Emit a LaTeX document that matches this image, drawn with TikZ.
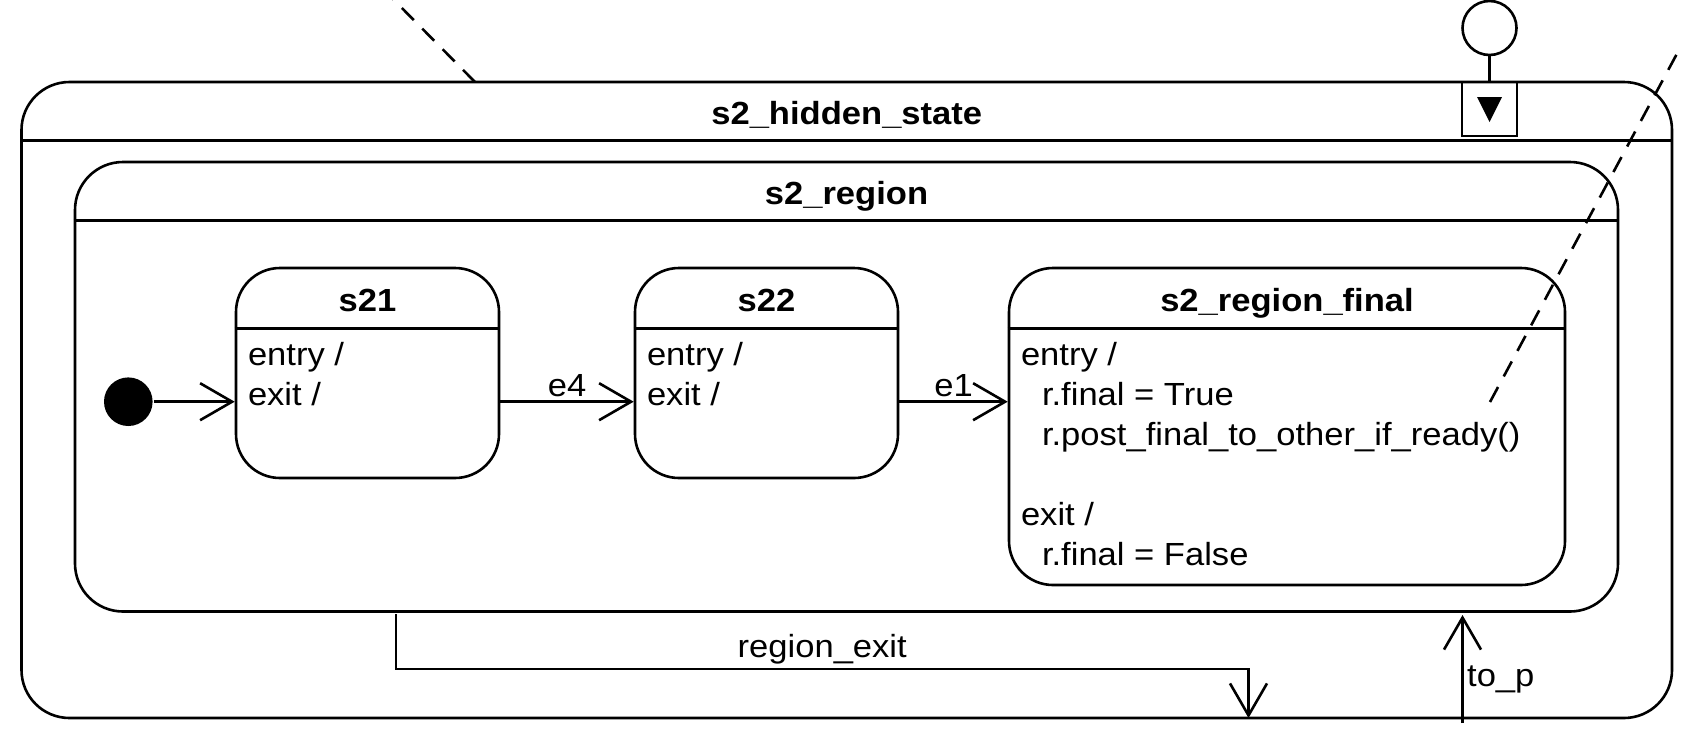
\documentclass[tikz,border=0pt]{standalone}
\usepackage{fontspec}
\setmainfont{Liberation Sans}[FakeStretch=1.08]
\usetikzlibrary{arrows.meta}

\newcommand{\statefont}{\fontsize{32}{40}\selectfont}

\begin{document}
\begin{tikzpicture}[
            x=1pt, y=-1pt,
            line width=2.6pt,
            font=\statefont,
            statebox/.style={draw, rounded corners=#1, inner sep=0pt},
            statebox/.default=44pt,
            title/.style={anchor=base, font=\statefont\bfseries},
            body/.style={anchor=base west, align=left, inner sep=0pt},
            trans/.style={-{Straight Barb[length=32pt,width=37pt]}},
            notelink/.style={dash pattern=on 17pt off 12pt}
        ]
            \useasboundingbox (0,0) rectangle (1683,729);

            \node[statebox=48pt, minimum width=1650.5pt, minimum height=636pt] (hidden) at (846.75,400) {};
            \draw ([yshift=-60pt]hidden.north west) -- ([yshift=-60pt]hidden.north east);
            \node[title] (hiddentitle) at ([yshift=-44pt]hidden.north) {s2\_hidden\_state};

            \node[statebox=48pt, minimum width=1543pt, minimum height=449.5pt] (region) at (846.5,386.75) {};
            \draw ([yshift=-60pt]region.north west) -- ([yshift=-60pt]region.north east);
            \node[title] (regiontitle) at ([yshift=-44pt]region.north) {s2\_region};

            \node[statebox, minimum width=263pt, minimum height=210pt] (s21) at (367.5,373) {};
            \draw ([yshift=-61.5pt]s21.north west) -- ([yshift=-61.5pt]s21.north east);
            \node[title] (s21title) at ([yshift=-45pt]s21.north) {s21};
            \node[body] (s21body) at ([xshift=12pt,yshift=-139pt]s21.north west) {entry /\\exit /};

            \node[statebox, minimum width=263pt, minimum height=210pt] (s22) at (766.5,373) {};
            \draw ([yshift=-61.5pt]s22.north west) -- ([yshift=-61.5pt]s22.north east);
            \node[title] (s22title) at ([yshift=-45pt]s22.north) {s22};
            \node[body] (s22body) at ([xshift=12pt,yshift=-139pt]s22.north west) {entry /\\exit /};

            \node[statebox, minimum width=556pt, minimum height=317pt] (final) at (1287,426.5) {};
            \draw ([yshift=-61.5pt]final.north west) -- ([yshift=-61.5pt]final.north east);
            \node[title] (finaltitle) at ([yshift=-45pt]final.north) {s2\_region\_final};
            \node[body] (finalbody) at ([xshift=12pt,yshift=-299pt]final.north west)
                {entry /\\
                 \hspace*{21pt}r.final = True\\
                 \hspace*{21pt}r.post\_final\_to\_other\_if\_ready()\\[40pt]
                 exit /\\
                 \hspace*{21pt}r.final = False};

            \node[circle, fill, minimum size=48.6pt, inner sep=0pt] (init) at (128.3,401.7) {};
            \draw[trans] (init) -- (init -| s21.west);
            \draw[trans] (s21.east |- init) -- node[above] {e4} (s22.west |- init);
            \draw[trans] (s22.east |- init) -- node[above] {e1} (final.west |- init);

            \coordinate (rxstart) at (396,614);
            \coordinate (rxend) at (1248.5,718);
            \draw[trans] (rxstart) -- (rxstart |- 0,669) -- node[above] {region\_exit} (rxend |- 0,669) -- (rxend);

            \coordinate (tpstart) at (1462.5,723);
            \coordinate (tpend) at (1462.5,615);
            \draw[trans] (tpstart) -- node[right, pos=0.4] {to\_p} (tpend);

            \node[draw, circle, minimum size=54pt, inner sep=0pt] (hist) at (1489.5,28) {};
            \node[draw, minimum width=55pt, minimum height=54pt, inner sep=0pt] (histbox) at (1489.5,109) {};
            \draw (hist) -- (histbox);
            \fill ([xshift=-12.5pt,yshift=12pt]histbox.center) -- ([xshift=12.5pt,yshift=12pt]histbox.center)
                -- ([yshift=-13pt]histbox.center) -- cycle;

            \coordinate (hidlink) at (475,82);
            \coordinate (noteA) at (391,-3);
            \draw[notelink] (hidlink) -- (noteA);
            \coordinate (finlink) at (1490,402);
            \coordinate (noteB) at (1680,48);
            \draw[notelink] (finlink) -- (noteB);
        \end{tikzpicture}
\end{document}
